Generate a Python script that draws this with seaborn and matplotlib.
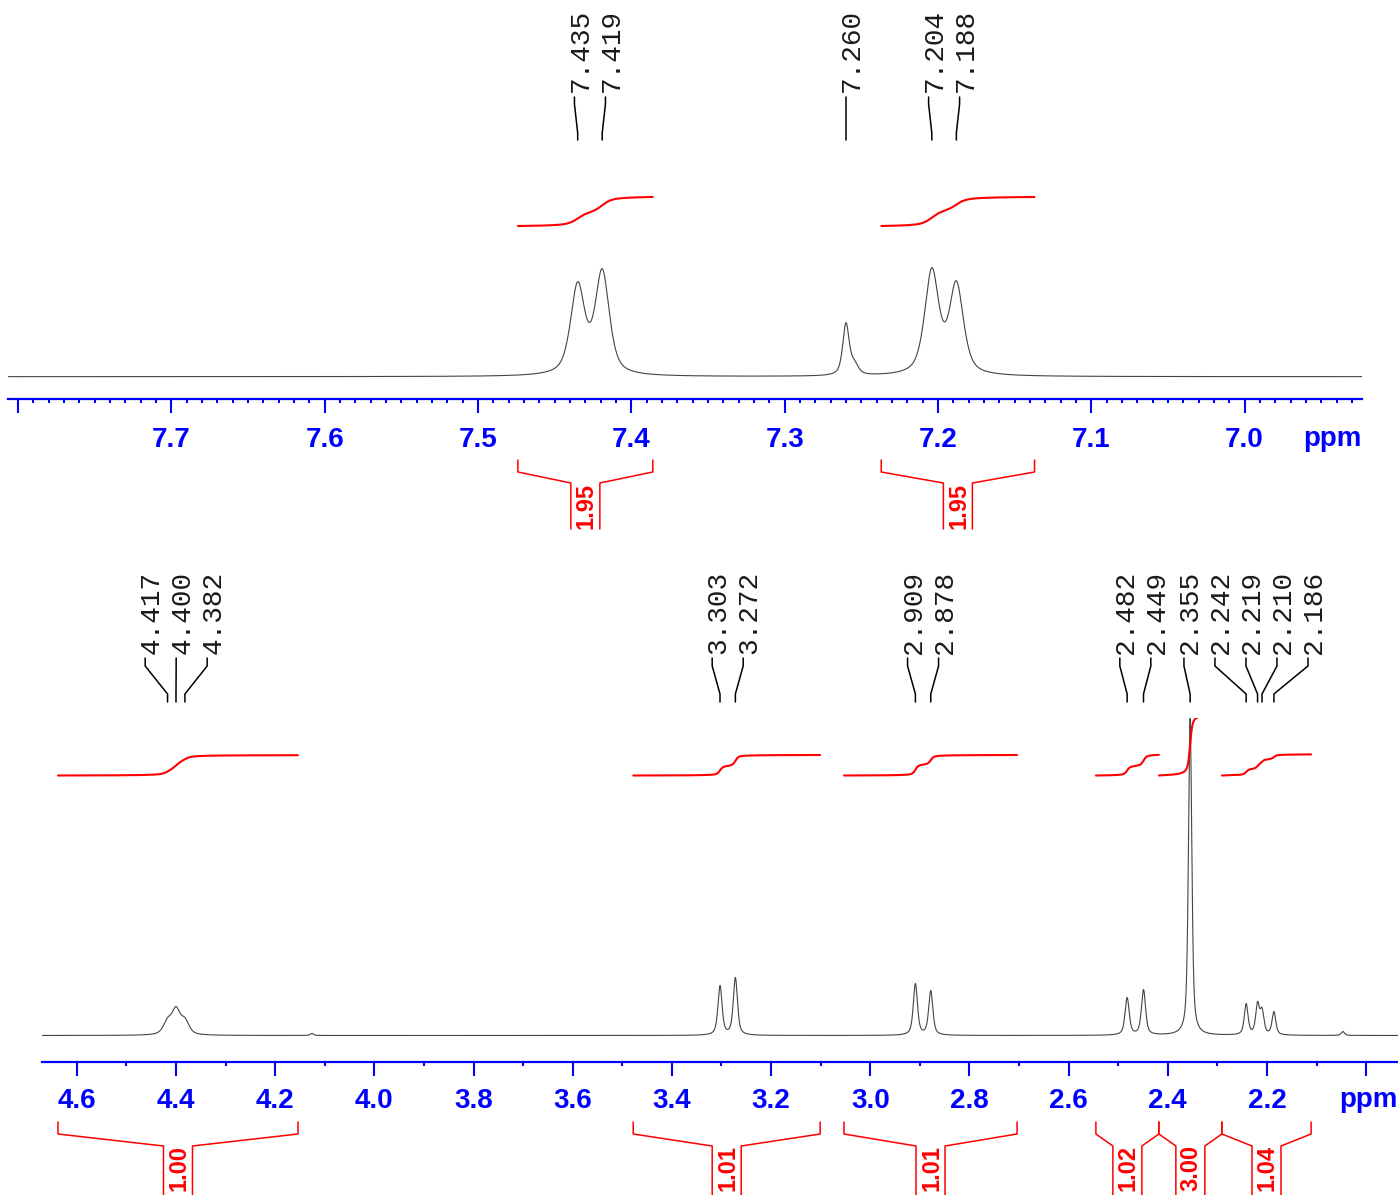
import numpy as np
import matplotlib
matplotlib.use("Agg")
import matplotlib.pyplot as plt
import matplotlib.transforms as mtransforms
from matplotlib.lines import Line2D
from matplotlib.ticker import MultipleLocator
import seaborn as sns

W, H = 1398, 1195

# ---------------- upper panel: aromatic region ----------------
arom_shift = [7.435, 7.419, 7.260, 7.2545, 7.204, 7.188]
arom_height = [95, 108, 54, 17, 109, 96]
arom_hwhm = [0.0055, 0.0055, 0.0025, 0.003, 0.0055, 0.0055]
arom_picked = [7.435, 7.419, 7.260, 7.204, 7.188]
arom_int_from = [7.474, 7.237]
arom_int_to = [7.386, 7.137]
arom_int_value = [1.95, 1.95]
arom_ticks = [7.8, 7.7, 7.6, 7.5, 7.4, 7.3, 7.2, 7.1, 7.0]
arom_ticklabels = ["", "7.7", "7.6", "7.5", "7.4", "7.3", "7.2", "7.1", "7.0"]

# ---------------- lower panel: aliphatic region ----------------
aliph_shift = [4.417, 4.400, 4.382, 4.126, 3.303, 3.272, 2.909, 2.878,
               2.482, 2.449, 2.355, 2.242, 2.219, 2.210, 2.186, 2.047]
aliph_height = [18, 29, 18, 2, 50, 58, 52, 45,
                38, 46, 317, 32, 34, 28, 24, 4]
aliph_hwhm = [0.010, 0.010, 0.010, 0.004, 0.005, 0.005, 0.005, 0.005,
              0.005, 0.005, 0.004, 0.0045, 0.0045, 0.0045, 0.0045, 0.004]
aliph_picked = [4.417, 4.400, 4.382, 3.303, 3.272, 2.909, 2.878,
                2.482, 2.449, 2.355, 2.242, 2.219, 2.210, 2.186]
aliph_int_from = [4.638, 3.478, 3.053, 2.545, 2.418, 2.291]
aliph_int_to = [4.154, 3.101, 2.704, 2.418, 2.291, 2.111]
aliph_int_value = [1.00, 1.01, 1.01, 1.02, 3.00, 1.04]
aliph_ticks = [4.6, 4.4, 4.2, 4.0, 3.8, 3.6, 3.4, 3.2, 3.0, 2.8, 2.6, 2.4, 2.2, 2.0]
aliph_ticklabels = ["4.6", "4.4", "4.2", "4.0", "3.8", "3.6", "3.4", "3.2",
                    "3.0", "2.8", "2.6", "2.4", "2.2", ""]

BLUE = "#0000ff"
RED = "#ff0000"

sns.set_theme(style="white")
plt.rcParams["font.family"] = ["Liberation Sans", "DejaVu Sans"]

fig = plt.figure(figsize=(W / 100, H / 100), dpi=100)
fig.patch.set_facecolor("white")


def fx(x):
    return x / W


def fy(y):
    return 1 - y / H


def lineshape(x, x0, hw, eta=0.6):
    u = (x - x0) / hw
    return eta / (1 + u ** 2) + (1 - eta) * np.exp(-np.log(2) * u ** 2)


def build_spectrum(grid, shifts, heights, widths):
    s = np.asarray(shifts, float)
    h = np.asarray(heights, float)
    w = np.asarray(widths, float)
    M = lineshape(s[:, None], s[None, :], w[None, :])
    amps = np.linalg.solve(M, h)
    return (amps[None, :] * lineshape(grid[:, None], s[None, :], w[None, :])).sum(axis=1)


def spread_labels(px, gap):
    px = np.asarray(px, float)
    order = np.argsort(px)
    clusters = [[x] for x in px[order]]

    def span(c):
        m, n = np.mean(c), len(c)
        return m - gap * (n - 1) / 2, m + gap * (n - 1) / 2

    changed = True
    while changed:
        changed = False
        for i in range(len(clusters) - 1):
            if span(clusters[i + 1])[0] - span(clusters[i])[1] < gap - 1e-9:
                clusters[i] = clusters[i] + clusters.pop(i + 1)
                changed = True
                break
    out = []
    for c in clusters:
        lo = span(c)[0]
        out += [lo + gap * k for k in range(len(c))]
    res = np.empty(len(px))
    res[order] = out
    return res


def draw_panel(cfg):
    left, right, top, spine, base = cfg["left"], cfg["right"], cfg["top"], cfg["spine"], cfg["base"]
    ax = fig.add_axes([fx(left), fy(spine), (right - left) / W, (spine - top) / H])
    ax.set_facecolor("none")

    grid = np.linspace(cfg["xlim"][0], cfg["xlim"][1], cfg["npts"])
    spec = build_spectrum(grid, cfg["shift"], cfg["height"], cfg["hwhm"])
    sns.lineplot(x=grid, y=spec, ax=ax, color="#444444", linewidth=0.8,
                 estimator=None, sort=False)

    ax.set_xlim(*cfg["xlim"])
    ax.set_ylim(-(spine - base), base - top)
    ax.set_xlabel("")
    ax.set_ylabel("")
    ax.set_yticks([])
    for s in ["left", "right", "top"]:
        ax.spines[s].set_visible(False)
    ax.spines["bottom"].set_color(BLUE)
    ax.spines["bottom"].set_linewidth(1.6)

    ax.set_xticks(cfg["ticks"])
    ax.set_xticklabels(cfg["ticklabels"], fontsize=20, fontweight="bold", color=BLUE)
    ax.xaxis.set_minor_locator(MultipleLocator(cfg["minor"]))
    ax.tick_params(axis="x", which="major", direction="out", length=10, width=1.5,
                   color=BLUE, pad=cfg["pad"], bottom=True)
    ax.tick_params(axis="x", which="minor", direction="out", length=3, width=1.5,
                   color=BLUE, bottom=True)
    ax.grid(False)

    fig.text(fx(right), fy(cfg["ppm_baseline"]), "ppm", ha="right", va="baseline",
             fontsize=20, fontweight="bold", color=BLUE)

    to_px = lambda v: ax.transData.transform(np.column_stack([v, np.zeros(len(v))]))[:, 0]

    # integral curves, clipped at the top of the integral display band
    blend = mtransforms.blended_transform_factory(ax.transData, fig.transFigure)
    clip = mtransforms.TransformedBbox(
        mtransforms.Bbox.from_extents(0, 0, W, H - cfg["int_clip"]),
        mtransforms.IdentityTransform())
    for a, b, val in zip(cfg["int_from"], cfg["int_to"], cfg["int_value"]):
        m = (grid <= a) & (grid >= b)
        cum = np.cumsum(spec[m])
        cum = (cum - cum[0]) / (cum[-1] - cum[0])
        ypx = cfg["int_base"] - val * cfg["int_scale"] * cum
        line, = ax.plot(grid[m], fy(ypx), color=RED, lw=1.5, transform=blend)
        line.set_clip_box(clip)

    # integral brackets with values
    tb, kn, inn, bt = cfg["bracket_y"]
    gap = 14.5
    for a, b, val in zip(cfg["int_from"], cfg["int_to"], cfg["int_value"]):
        xa, xb = to_px([a, b])
        cx = (xa + xb) / 2
        for xo, xi in [(xa, cx - gap), (xb, cx + gap)]:
            fig.add_artist(Line2D([fx(xo), fx(xo), fx(xi), fx(xi)],
                                  [fy(tb), fy(kn), fy(inn), fy(bt)],
                                  color=RED, lw=1.1, transform=fig.transFigure))
        fig.text(fx(cx + 1), fy(cfg["int_label_y"]), f"{val:.2f}", rotation=90,
                 ha="center", va="center", fontsize=17, fontweight="bold", color=RED)

    # picked peak labels with leader lines
    peak_px = to_px(cfg["picked"])
    lab_px = spread_labels(peak_px, 31)
    y0, y1, y2, y3 = cfg["leader_y"]
    for shift, xp, xl in zip(cfg["picked"], peak_px, lab_px):
        fig.add_artist(Line2D([fx(xl), fx(xl), fx(xp), fx(xp)],
                              [fy(y0), fy(y1), fy(y2), fy(y3)],
                              color="black", lw=1.1, transform=fig.transFigure))
        fig.text(fx(xl + 6), fy(cfg["label_bottom"]), f"{shift:.3f}", rotation=90,
                 ha="center", va="bottom", fontsize=20, color="#1a1a1a",
                 family=["Liberation Mono", "DejaVu Sans Mono"])
    return ax


upper = dict(left=8, right=1362, top=0, spine=399.3, base=376.7,
             xlim=(7.8066, 6.9234), npts=14000,
             shift=arom_shift, height=arom_height, hwhm=arom_hwhm,
             ticks=arom_ticks, ticklabels=arom_ticklabels, minor=0.01, pad=9.6,
             ppm_baseline=446,
             int_from=arom_int_from, int_to=arom_int_to, int_value=arom_int_value,
             int_base=226, int_scale=14.87, int_clip=0,
             bracket_y=(460, 472, 483, 529), int_label_y=506,
             picked=arom_picked, leader_y=(97, 104, 133, 140), label_bottom=92.5)

lower = dict(left=42.4, right=1398, top=714, spine=1061.7, base=1035.5,
             xlim=(4.6694, 1.9358), npts=18000,
             shift=aliph_shift, height=aliph_height, hwhm=aliph_hwhm,
             ticks=aliph_ticks, ticklabels=aliph_ticklabels, minor=0.1, pad=9.0,
             ppm_baseline=1107.3,
             int_from=aliph_int_from, int_to=aliph_int_to, int_value=aliph_int_value,
             int_base=775.5, int_scale=20.3, int_clip=718,
             bracket_y=(1122, 1134, 1146, 1200), int_label_y=1168,
             picked=aliph_picked, leader_y=(658, 666, 694, 702), label_bottom=654.5)

draw_panel(upper)
draw_panel(lower)

fig.savefig("out.png", dpi=100, facecolor="white")
